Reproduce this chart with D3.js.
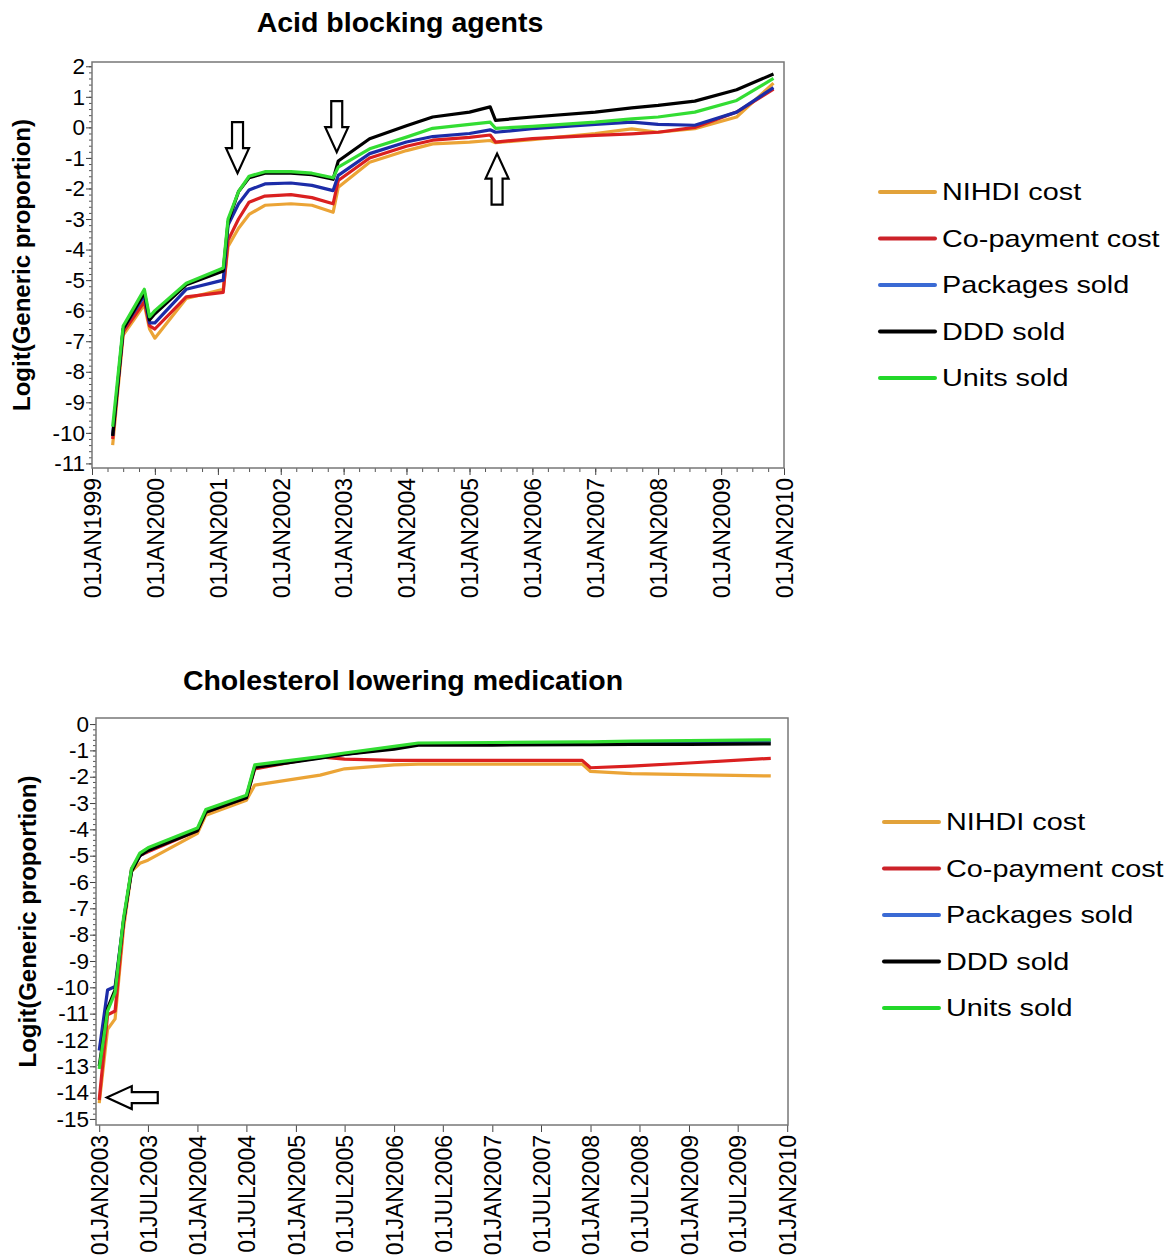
<!DOCTYPE html>
<html><head><meta charset="utf-8">
<script src="https://cdn.jsdelivr.net/npm/d3@7"></script>
<style>
body{margin:0;background:#fff;}
text{font-family:"Liberation Sans",Arial,sans-serif;fill:#000;}
</style>
</head><body>
<svg id="c" width="1171" height="1259"></svg>
<script>
// ---------- shared ----------
const seriesNames = ["NIHDI cost","Co-payment cost","Packages sold","DDD sold","Units sold"];
const lineColors = ["#EBA436","#DA2020","#1C2CA8","#000000","#33DD33"];
const legendColors = ["#E2A23A","#CC2229","#3A6AD4","#000000","#22D82A"];

// ---------- Acid blocking agents ----------
const acidTitle = "Acid blocking agents";
const acidDates = ["1999-05","1999-07","1999-09","1999-11","1999-12","2000-01","2000-07","2001-02","2001-03","2001-05","2001-07","2001-10","2002-03","2002-07","2002-11","2002-12","2003-06","2004-01","2004-06","2005-01","2005-05","2005-06","2006-01","2007-01","2007-08","2008-01","2008-08","2009-04","2009-11"];
const acidNIHDI   = [-10.4,-6.8,-6.3,-5.8,-6.6,-6.9,-5.6,-5.3,-3.9,-3.3,-2.85,-2.55,-2.5,-2.55,-2.78,-1.96,-1.14,-0.76,-0.54,-0.48,-0.43,-0.5,-0.4,-0.2,-0.05,-0.16,-0.04,0.34,1.45];
const acidCopay   = [-10.2,-6.7,-6.2,-5.7,-6.5,-6.6,-5.55,-5.4,-3.7,-3.0,-2.45,-2.25,-2.2,-2.3,-2.5,-1.74,-1.0,-0.62,-0.42,-0.33,-0.25,-0.48,-0.37,-0.26,-0.21,-0.16,0.0,0.5,1.25];
const acidPackages= [-10.1,-6.6,-6.05,-5.5,-6.4,-6.4,-5.3,-5.0,-3.2,-2.5,-2.05,-1.85,-1.82,-1.9,-2.07,-1.57,-0.86,-0.48,-0.3,-0.2,-0.08,-0.16,-0.04,0.1,0.17,0.1,0.07,0.5,1.3];
const acidDDD     = [-10.1,-6.6,-6.0,-5.4,-6.3,-6.1,-5.15,-4.7,-3.1,-2.1,-1.65,-1.5,-1.5,-1.55,-1.7,-1.1,-0.37,0.05,0.34,0.5,0.67,0.23,0.34,0.5,0.64,0.72,0.86,1.23,1.75];
const acidUnits   = [-9.8,-6.5,-5.9,-5.3,-6.2,-6.0,-5.1,-4.6,-3.0,-2.1,-1.6,-1.45,-1.45,-1.5,-1.65,-1.3,-0.7,-0.32,-0.03,0.1,0.17,-0.03,0.03,0.17,0.28,0.34,0.5,0.88,1.6];
const acidYTicks = d3.range(-11, 3, 1);
const acidArrows = [
  {date:"2001-04-25", value:-1.5, dir:"down"},
  {date:"2002-11-22", value:-0.81, dir:"down"},
  {date:"2005-06-10", value:-0.86, dir:"up"}
];

// ---------- Cholesterol lowering medication ----------
const cholTitle = "Cholesterol lowering medication";
const cholDates = ["2003-01","2003-02","2003-03","2003-04","2003-05","2003-06","2003-07","2004-01","2004-02","2004-07","2004-08","2005-04","2005-07","2006-01","2006-04","2007-01","2007-12","2008-01","2008-06","2009-01","2009-11"];
const cholNIHDI   = [-14.4,-11.6,-11.2,-7.8,-5.6,-5.29,-5.17,-4.15,-3.46,-2.89,-2.32,-1.94,-1.7,-1.55,-1.52,-1.52,-1.52,-1.8,-1.88,-1.92,-1.97];
const cholCopay   = [-14.28,-11.05,-10.9,-7.6,-5.5,-5.0,-4.85,-4.05,-3.35,-2.8,-1.7,-1.25,-1.33,-1.38,-1.38,-1.38,-1.38,-1.66,-1.6,-1.48,-1.3];
const cholPackages= [-12.4,-10.1,-9.97,-7.5,-5.55,-5.0,-4.8,-4.0,-3.3,-2.75,-1.62,-1.28,-1.15,-0.9,-0.75,-0.75,-0.72,-0.72,-0.7,-0.68,-0.65];
const cholDDD     = [-13.0,-10.8,-10.1,-7.5,-5.6,-5.0,-4.8,-4.05,-3.35,-2.8,-1.65,-1.3,-1.15,-0.95,-0.8,-0.8,-0.78,-0.78,-0.77,-0.77,-0.75];
const cholUnits   = [-13.1,-10.9,-10.2,-7.4,-5.5,-4.9,-4.7,-3.95,-3.25,-2.7,-1.55,-1.24,-1.1,-0.85,-0.72,-0.7,-0.68,-0.68,-0.65,-0.63,-0.6];
const cholYTicks = d3.range(-15, 1, 1);
const cholArrows = [
  {date:"2003-01-29", value:-14.19, dir:"left"}
];

const parseM = d3.timeParse("%Y-%m");
const parseD = d3.timeParse("%Y-%m-%d");
const fmt = d => d3.timeFormat("%d%b%Y")(d).toUpperCase();
const FONT = '"Liberation Sans",Arial,sans-serif';

const svg = d3.select("#c");

function drawChart(cfg){
  const g = svg.append("g");
  const x = d3.scaleTime().domain(cfg.xDomain).range([cfg.left, cfg.right]);
  const y = d3.scaleLinear().domain(cfg.yDomain).range([cfg.bottom, cfg.top]);

  // title
  g.append("text").attr("x", cfg.titleX).attr("y", cfg.titleY)
    .attr("text-anchor","middle").attr("font-size", 28.5).attr("font-weight","bold").text(cfg.title);

  // y label
  g.append("text").attr("transform", `translate(${cfg.ylabX},${(cfg.top+cfg.bottom)/2}) rotate(-90)`)
    .attr("text-anchor","middle").attr("dy","0.35em").attr("font-size", 24).attr("font-weight","bold")
    .text("Logit(Generic proportion)");

  // minor y ticks
  const yMinor = d3.range(cfg.yTicks[0], cfg.yTicks[cfg.yTicks.length-1]+0.001, 0.2);
  g.append("g").attr("transform",`translate(${cfg.left},0)`)
    .call(d3.axisLeft(y).tickValues(yMinor).tickSize(3).tickFormat(""))
    .call(s=>{s.select(".domain").remove(); s.selectAll("line").attr("stroke","#555");});
  // major y
  const ya = g.append("g").attr("transform",`translate(${cfg.left},0)`)
    .call(d3.axisLeft(y).tickValues(cfg.yTicks).tickSize(6).tickPadding(1).tickFormat(d => String(d)));
  ya.select(".domain").remove();
  ya.selectAll("line").attr("stroke","#444");
  ya.selectAll("text").attr("font-size",22.5).attr("font-family",FONT).attr("fill","#000");

  // minor x
  if (cfg.xMinor){
    g.append("g").attr("transform",`translate(0,${cfg.bottom})`)
      .call(d3.axisBottom(x).tickValues(cfg.xMinor).tickSize(4).tickFormat(""))
      .call(s=>{s.select(".domain").remove(); s.selectAll("line").attr("stroke","#555");});
  }
  const xa = g.append("g").attr("transform",`translate(0,${cfg.bottom})`)
    .call(d3.axisBottom(x).tickValues(cfg.xTicks).tickSize(7).tickFormat(fmt));
  xa.select(".domain").remove();
  xa.selectAll("line").attr("stroke","#444");
  xa.selectAll("text").attr("font-size",23).attr("font-family",FONT).attr("fill","#000")
    .attr("transform","rotate(-90)").attr("text-anchor","end")
    .attr("x",-10).attr("y",0).attr("dy","0.36em");

  // frame
  g.append("rect").attr("x",cfg.left).attr("y",cfg.top)
    .attr("width",cfg.right-cfg.left).attr("height",cfg.bottom-cfg.top)
    .attr("fill","none").attr("stroke","#777").attr("stroke-width",1.5);

  // lines
  const line = d3.line().x(d=>x(d.date)).y(d=>y(d.v));
  cfg.series.forEach((vals,i)=>{
    const data = vals.map((v,j)=>({date:parseM(cfg.dates[j]), v}));
    g.append("path").datum(data).attr("d",line)
      .attr("fill","none").attr("stroke",lineColors[i]).attr("stroke-width",3.2)
      .attr("stroke-linejoin","round");
  });

  // arrows
  const rot = {down:0, up:180, left:90};
  cfg.arrows.forEach(a=>{
    const px = x(parseD(a.date)), py = y(a.value);
    g.append("path")
      .attr("d","M-5.5,-51 L5.5,-51 L5.5,-25 L11.5,-25 L0,0 L-11.5,-25 L-5.5,-25 Z")
      .attr("transform",`translate(${px},${py}) rotate(${rot[a.dir]})`)
      .attr("fill","#fff").attr("stroke","#000").attr("stroke-width",2.2).attr("stroke-linejoin","miter");
  });

  // legend
  const lg = g.append("g");
  seriesNames.forEach((n,i)=>{
    const yy = cfg.legendY + i*46.5;
    lg.append("line").attr("x1",cfg.legendX).attr("x2",cfg.legendX+55).attr("y1",yy).attr("y2",yy)
      .attr("stroke",legendColors[i]).attr("stroke-width",4).attr("stroke-linecap","round");
    lg.append("text").attr("transform",`translate(${cfg.legendX+62},${yy}) scale(1.2,1)`)
      .attr("dy","0.35em").attr("font-size",24).text(n);
  });
}

drawChart({
  title: acidTitle, titleX: 400, titleY: 32, ylabX: 22,
  left: 92, right: 784, top: 62, bottom: 468,
  xDomain: [new Date(1999,0,1), new Date(2010,0,1)],
  yDomain: [-11.15, 2.14],
  yTicks: acidYTicks,
  xTicks: d3.timeYear.range(new Date(1999,0,1), new Date(2010,0,2)),
  xMinor: d3.timeMonth.every(3).range(new Date(1999,0,1), new Date(2010,0,2)),
  dates: acidDates,
  series: [acidNIHDI, acidCopay, acidPackages, acidDDD, acidUnits],
  arrows: acidArrows,
  legendX: 880, legendY: 192
});

drawChart({
  title: cholTitle, titleX: 403, titleY: 690, ylabX: 28,
  left: 96, right: 788, top: 718, bottom: 1125,
  xDomain: [new Date(2002,11,20), new Date(2010,0,4)],
  yDomain: [-15.23, 0.23],
  yTicks: cholYTicks,
  xTicks: d3.timeMonth.every(6).range(new Date(2003,0,1), new Date(2010,0,2)),
  xMinor: null,
  dates: cholDates,
  series: [cholNIHDI, cholCopay, cholPackages, cholDDD, cholUnits],
  arrows: cholArrows,
  legendX: 884, legendY: 822
});
</script>
</body></html>
